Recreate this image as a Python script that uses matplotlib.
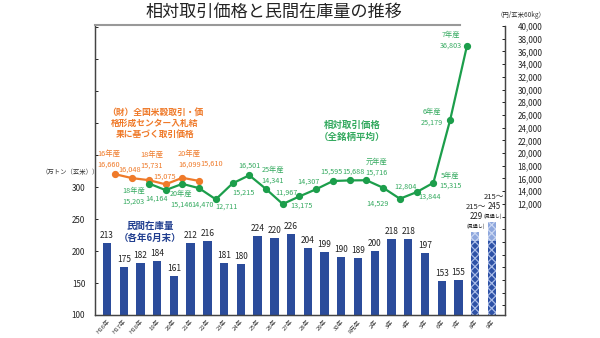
import matplotlib
matplotlib.use("Agg")
import matplotlib.pyplot as plt
import numpy as np

plt.rcParams['font.family'] = ['Noto Sans CJK JP', 'DejaVu Sans']
plt.rcParams['hatch.linewidth'] = 0.9

# --- data -------------------------------------------------------------
years = ["H16年", "H17年", "H18年", "19年", "20年", "21年", "22年", "23年",
         "24年", "25年", "26年", "27年", "28年", "29年", "30年", "R元年",
         "2年", "3年", "4年", "5年", "6年", "7年", "8年", "9年"]
stock = [213, 175, 182, 184, 161, 212, 216, 181, 180, 224, 220, 226,
         204, 199, 190, 189, 200, 218, 218, 197, 153, 155]
outlook_low = [215, 215]
outlook_high = [229, 245]

center_years = ["16年産", "17年産", "18年産", "19年産", "20年産", "21年産"]
center_price = [16660, 16048, 15731, 15075, 16099, 15610]

aitai_years = ["18年産", "19年産", "20年産", "21年産", "22年産", "23年産",
               "24年産", "25年産", "26年産", "27年産", "28年産", "29年産",
               "30年産", "元年産", "2年産", "3年産", "4年産", "5年産",
               "6年産", "7年産"]
aitai_price = [15203, 14164, 15146, 14470, 12711, 15215, 16501, 14341,
               11967, 13175, 14307, 15595, 15688, 15716, 14529, 12804,
               13844, 15315, 25179, 36803]

# --- label placement (pixel offsets, year line shown or not) ---------
center_show_year = [True, False, True, False, True, False]
center_offsets = [(-7, 15), (-2, 8), (3, 20), (-1, 8), (7, 19), (13, 17)]
aitai_show_year = [True, False, True, False, False, False, False, True,
                   False, False, False, False, False, True, False, False,
                   False, True, True, True]
aitai_offsets = [(-15, -13), (-9, -9), (-1, -15), (3, -16), (11, -7),
                 (11, -9), (0, 10), (7, 14), (4, 11), (2, -9), (-8, 8),
                 (-2, 9), (4, 9), (10, 13), (-6, -16), (6, 12), (13, -5),
                 (17, 2), (-18, 3), (-16, 6)]

BLUE = '#2b4c9b'
GREEN = '#1c9e4b'
GREEN_TXT = '#35aa60'
ORANGE = '#ef7a2a'
NAVY = '#1f3d8f'

fig = plt.figure(figsize=(6, 3.38), dpi=100)
ax = fig.add_axes([95 / 600, 23 / 338, 410 / 600, 289 / 338])
ax2 = ax.twinx()

n_hist = len(stock)
x_hist = np.arange(n_hist)
x_out = np.arange(n_hist, n_hist + len(outlook_low))

# stock bars
ax.bar(x_hist, np.array(stock) - 100, bottom=100, width=0.5, color=BLUE,
       zorder=2)
for xi, v in zip(x_hist, stock):
    ax.annotate(f"{v}", (xi, v), xytext=(0, 3), textcoords='offset pixels',
                ha='center', va='bottom', fontsize=6, color='#222222')

# outlook bars (checkered)
low = np.array(outlook_low)
high = np.array(outlook_high)
ax.bar(x_out, low - 100, bottom=100, width=0.5, color='#2e52a6',
       edgecolor='#a9bce8', hatch='xxxx', linewidth=0, zorder=2)
ax.bar(x_out, high - low, bottom=low, width=0.5, color='#8ea7dd',
       edgecolor='#c9d6f2', hatch='xxxx', linewidth=0, zorder=2)
for k, (xi, lo, hi) in enumerate(zip(x_out, low, high)):
    ax.annotate("(見通し)", (xi, hi), xytext=(1, 3),
                textcoords='offset pixels', ha='center', va='bottom',
                fontsize=3.6, color='#222222')
    ax.annotate(f"{hi}", (xi, hi), xytext=(1 + k, 11),
                textcoords='offset pixels', ha='center', va='bottom',
                fontsize=5.7, color='#222222')
    ax.annotate(f"{lo}～", (xi, hi), xytext=(1 + k, 21),
                textcoords='offset pixels', ha='center', va='bottom',
                fontsize=5.5, color='#222222')

ax.set_xlim(-0.717, 23.78)
ax.set_ylim(100, 551.6)
ax.set_xticks(np.arange(len(years)))
ax.set_xticklabels(years, rotation=45, ha='right', rotation_mode='anchor',
                   fontsize=4.3, color='#333333')
ax.tick_params(axis='x', length=0, pad=3)
left_ticks = np.arange(100, 551, 50)
ax.set_yticks(left_ticks)
ax.set_yticklabels([f"{t}" if t <= 300 else "" for t in left_ticks],
                   fontsize=5.8, color='#222222')
ax.tick_params(axis='y', direction='in', length=2.5, width=0.6, pad=7)

# price lines
xc = np.arange(len(center_price)) + 0.5
ax2.plot(xc, center_price, color=ORANGE, lw=1.6, marker='o', ms=4.2,
         zorder=4)
xa = np.arange(2, 2 + len(aitai_price)) + 0.5
ax2.plot(xa, aitai_price, color=GREEN, lw=1.6, marker='o', ms=4.2,
         zorder=4)

for xi, v, yr, show, (dx, dy) in zip(xc, center_price, center_years,
                                     center_show_year, center_offsets):
    txt = f"{yr}\n{v:,}" if show else f"{v:,}"
    ax2.annotate(txt, (xi, v), xytext=(dx, dy), textcoords='offset pixels',
                 ha='center', va='center', fontsize=5.3, color=ORANGE,
                 linespacing=1.45, clip_on=True, annotation_clip=False)
for xi, v, yr, show, (dx, dy) in zip(xa, aitai_price, aitai_years,
                                     aitai_show_year, aitai_offsets):
    txt = f"{yr}\n{v:,}" if show else f"{v:,}"
    ax2.annotate(txt, (xi, v), xytext=(dx, dy), textcoords='offset pixels',
                 ha='center', va='center', fontsize=5.2, color=GREEN_TXT,
                 linespacing=1.45)

ax2.set_ylim(-5500, 40000)
right_ticks = np.arange(-4000, 40001, 2000)
ax2.set_yticks(right_ticks)
ax2.set_yticklabels([f"{t:,}" if t >= 12000 else "" for t in right_ticks],
                    fontsize=5.8, color='#222222')
ax2.tick_params(axis='y', direction='in', length=2.5, width=0.6, pad=9)

for a in (ax, ax2):
    a.spines['top'].set_visible(False)
    for s in ('left', 'right', 'bottom'):
        a.spines[s].set_color('#444444')
        a.spines[s].set_linewidth(0.9)

# series annotations
fig.text(155 / 600, 1 - 123 / 338,
         "（財）全国米穀取引・価\n格形成センター入札結\n果に基づく取引価格",
         ha='center', va='center', fontsize=6.3, color=ORANGE,
         fontweight='bold', linespacing=1.3)
fig.text(352 / 600, 1 - 131 / 338, "相対取引価格\n（全銘柄平均）",
         ha='center', va='center', fontsize=6.8, color=GREEN_TXT,
         fontweight='bold', linespacing=1.3)
fig.text(150 / 600, 1 - 232 / 338, "民間在庫量\n（各年6月末）",
         ha='center', va='center', fontsize=6.8, color=NAVY,
         fontweight='bold', linespacing=1.3)

# unit labels
fig.text(70 / 600, 1 - 172 / 338, "（万トン（玄米））", ha='center',
         va='center', fontsize=4.6, color='#333333')
fig.text(521 / 600, 1 - 15 / 338, "（円/玄米60kg）", ha='center',
         va='center', fontsize=4.6, color='#333333')

# title
fig.text(274 / 600, 1 - 12 / 338, "相対取引価格と民間在庫量の推移",
         ha='center', va='center', fontsize=12.3, color='#222222')
fig.add_artist(plt.Line2D([95 / 600, 460 / 600], [1 - 25 / 338, 1 - 25 / 338],
                          color='#999999', lw=1.5))

fig.savefig("out.png", dpi=100)
